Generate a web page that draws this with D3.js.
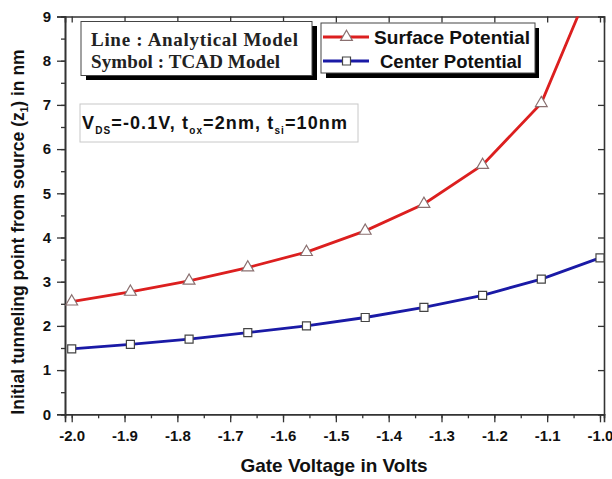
<!DOCTYPE html>
<html>
<head>
<meta charset="utf-8">
<script src="https://cdn.jsdelivr.net/npm/d3@7"></script>
<style>
  body { margin: 0; background: #fff; }
  svg text { font-family: Arial, "Liberation Sans", sans-serif; font-weight: bold; }
</style>
</head>
<body>
<div id="chart"></div>
<script>
// data
var gateVoltage = [-2.0, -1.8889, -1.7778, -1.6667, -1.5556, -1.4444, -1.3333, -1.2222, -1.1111, -1.0];
var surfacePotential = [2.55, 2.77, 3.02, 3.32, 3.67, 4.15, 4.76, 5.64, 7.04, 10.2];
var centerPotential = [1.48, 1.58, 1.70, 1.85, 2.00, 2.19, 2.42, 2.69, 3.06, 3.54];
var xTicks = [-2.0, -1.9, -1.8, -1.7, -1.6, -1.5, -1.4, -1.3, -1.2, -1.1, -1.0];
var yTicks = [0, 1, 2, 3, 4, 5, 6, 7, 8, 9];

var width = 612, height = 479;
var mLeft = 65, mRight = 604, mTop = 16.5, mBottom = 414.3;
var red = "#dc1f1f", blue = "#1a1aa6";
var serif = "'Liberation Serif', 'Times New Roman', serif";

var svg = d3.select("#chart").append("svg")
        .attr("width", width)
        .attr("height", height);

var x = d3.scaleLinear().domain([-2.0127, -0.9924]).range([mLeft, mRight]);
var y = d3.scaleLinear().domain([0, 9]).range([mBottom, mTop]);

var xMinor = d3.range(-2.0, -0.99, 0.05);
var yMinor = d3.range(0, 9.01, 0.5);
var fmtX = function (d) { return d.toFixed(1); };  // plain hyphen minus like the figure

// axes: bottom/left ticks outward, top/right inward
svg.append("g")
        .attr("transform", "translate(0," + mBottom + ")")
        .call(d3.axisBottom(x).tickValues(xMinor).tickSize(4).tickFormat(""));
svg.append("g")
        .attr("transform", "translate(0," + mBottom + ")")
        .call(d3.axisBottom(x).tickValues(xTicks).tickSize(8).tickPadding(8).tickFormat(fmtX))
        .call(g => g.selectAll("text").attr("font-size", 15).attr("fill", "#111"));
svg.append("g")
        .attr("transform", "translate(" + mLeft + ",0)")
        .call(d3.axisLeft(y).tickValues(yMinor).tickSize(4).tickFormat(""));
svg.append("g")
        .attr("transform", "translate(" + mLeft + ",0)")
        .call(d3.axisLeft(y).tickValues(yTicks).tickSize(8).tickPadding(6).tickFormat(d3.format("d")))
        .call(g => g.selectAll("text").attr("font-size", 15).attr("fill", "#111"));
svg.append("g")
        .attr("transform", "translate(0," + mTop + ")")
        .call(d3.axisTop(x).tickValues(xTicks).tickSize(-6).tickFormat(""));
svg.append("g")
        .attr("transform", "translate(" + mRight + ",0)")
        .call(d3.axisRight(y).tickValues(yTicks).tickSize(-6).tickFormat(""));

svg.selectAll(".domain").attr("stroke", "#333").attr("stroke-width", 1.6);
svg.selectAll(".tick line").attr("stroke", "#333").attr("stroke-width", 1.3);

// clip the curves to the frame
svg.append("clipPath").attr("id", "plotClip")
        .append("rect")
        .attr("x", mLeft).attr("y", mTop)
        .attr("width", mRight - mLeft).attr("height", mBottom - mTop);

var line = d3.line()
        .x(function (d, i) { return x(gateVoltage[i]); })
        .y(function (d) { return y(d); });

var plot = svg.append("g").attr("clip-path", "url(#plotClip)");

plot.append("path")
        .datum(surfacePotential)
        .attr("fill", "none")
        .attr("stroke", red)
        .attr("stroke-width", 2.8)
        .attr("d", line);
plot.append("path")
        .datum(centerPotential)
        .attr("fill", "none")
        .attr("stroke", blue)
        .attr("stroke-width", 2.8)
        .attr("d", line);

var triangle = d3.symbol().type(d3.symbolTriangle).size(60);
var square = d3.symbol().type(d3.symbolSquare).size(64);

plot.selectAll("path.tri")
        .data(surfacePotential)
        .enter()
        .append("path")
        .attr("class", "tri")
        .attr("transform", function (d, i) { return "translate(" + x(gateVoltage[i]) + "," + y(d) + ")"; })
        .attr("d", triangle)
        .attr("fill", "#fff")
        .attr("stroke", "#8a7070")
        .attr("stroke-width", 1.2);

svg.selectAll("path.sq")
        .data(centerPotential)
        .enter()
        .append("path")
        .attr("class", "sq")
        .attr("transform", function (d, i) { return "translate(" + x(gateVoltage[i]) + "," + y(d) + ")"; })
        .attr("d", square)
        .attr("fill", "#fff")
        .attr("stroke", "#444")
        .attr("stroke-width", 1.2);

// model box (shadowed)
svg.append("rect").attr("x", 86).attr("y", 26).attr("width", 231).attr("height", 54).attr("fill", "#000");
svg.append("rect").attr("x", 81).attr("y", 21.5).attr("width", 231).attr("height", 54)
        .attr("fill", "#fff").attr("stroke", "#444").attr("stroke-width", 1);
svg.append("text").attr("x", 91).attr("y", 45.5)
        .attr("font-size", 19).attr("fill", "#222")
        .attr("textLength", 207).attr("lengthAdjust", "spacing")
        .style("font-family", serif)
        .text("Line : Analytical Model");
svg.append("text").attr("x", 91).attr("y", 67.5)
        .attr("font-size", 19).attr("fill", "#222")
        .attr("textLength", 189).attr("lengthAdjust", "spacing")
        .style("font-family", serif)
        .text("Symbol : TCAD Model");

// legend box (shadowed)
svg.append("rect").attr("x", 326).attr("y", 28).attr("width", 213).attr("height", 50).attr("fill", "#000");
svg.append("rect").attr("x", 321).attr("y", 23).attr("width", 214).attr("height", 50)
        .attr("fill", "#fff").attr("stroke", "#444").attr("stroke-width", 1);

var legend = [
    {name: "Surface Potential", color: red, sym: triangle, stroke: "#8a7070", yy: 37, tx: 374, len: 156},
    {name: "Center Potential", color: blue, sym: square, stroke: "#444", yy: 61, tx: 380, len: 142}
];
var lg = svg.selectAll("g.lg").data(legend).enter().append("g").attr("class", "lg");
lg.append("line")
        .attr("x1", 323).attr("x2", 369)
        .attr("y1", function (d) { return d.yy; }).attr("y2", function (d) { return d.yy; })
        .attr("stroke", function (d) { return d.color; })
        .attr("stroke-width", 2.8);
lg.append("path")
        .attr("transform", function (d) { return "translate(346.5," + d.yy + ")"; })
        .attr("d", function (d) { return d.sym(); })
        .attr("fill", "#fff")
        .attr("stroke", function (d) { return d.stroke; })
        .attr("stroke-width", 1.2);
lg.append("text")
        .attr("x", function (d) { return d.tx; })
        .attr("y", function (d) { return d.yy + 6.5; })
        .attr("font-size", 19).attr("fill", "#111")
        .attr("textLength", function (d) { return d.len; })
        .attr("lengthAdjust", "spacingAndGlyphs")
        .text(function (d) { return d.name; });

// parameter box
svg.append("rect").attr("x", 80).attr("y", 104).attr("width", 278).attr("height", 38)
        .attr("fill", "#fff").attr("stroke", "#c8c8c8").attr("stroke-width", 1);
var par = svg.append("text").attr("x", 82).attr("y", 129).attr("font-size", 18).attr("fill", "#111")
        .attr("textLength", 265).attr("lengthAdjust", "spacing");
par.append("tspan").text("V");
par.append("tspan").attr("dy", 5).attr("font-size", 10).text("DS");
par.append("tspan").attr("dy", -5).text("=-0.1V, t");
par.append("tspan").attr("dy", 5).attr("font-size", 10).text("ox");
par.append("tspan").attr("dy", -5).text("=2nm, t");
par.append("tspan").attr("dy", 5).attr("font-size", 10).text("si");
par.append("tspan").attr("dy", -5).text("=10nm");

// axis titles
svg.append("text")
        .attr("x", 334).attr("y", 472)
        .attr("text-anchor", "middle")
        .attr("font-size", 19).attr("fill", "#111")
        .text("Gate Voltage in Volts");

var yt = svg.append("text")
        .attr("transform", "translate(24,232) rotate(-90)")
        .attr("text-anchor", "middle")
        .attr("font-size", 17.5).attr("fill", "#111");
yt.append("tspan").text("Initial tunneling point from source (z");
yt.append("tspan").attr("dy", 4).attr("font-size", 10).text("1");
yt.append("tspan").attr("dy", -4).text(") in nm");
</script>
</body>
</html>
